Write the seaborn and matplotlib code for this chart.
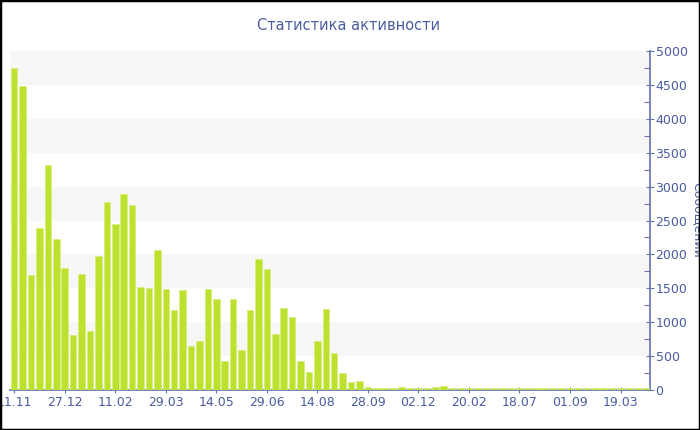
import matplotlib
matplotlib.use("Agg")
import matplotlib.pyplot as plt
import seaborn as sns
import pandas as pd
import numpy as np
from matplotlib.ticker import MultipleLocator

values = [4750, 4480, 1700, 2390, 3320, 2220, 1795, 810, 1715, 865,
          1980, 2775, 2450, 2895, 2730, 1525, 1500, 2065, 1495, 1180,
          1470, 655, 725, 1485, 1345, 430, 1345, 590, 1185, 1930,
          1780, 830, 1205, 1075, 432, 265, 720, 1190, 545, 250,
          125, 130, 45, 35, 35, 25, 38, 28, 25, 35,
          48, 58, 28, 26, 26, 26, 25, 25, 25, 25,
          24, 24, 24, 24, 24, 24, 24, 24, 24, 24,
          24, 24, 24, 24, 24, 24]
tick_labels = ["11.11", "27.12", "11.02", "29.03", "14.05", "29.06", "14.08",
               "28.09", "02.12", "20.02", "18.07", "01.09", "19.03"]
title = "Статистика активности"
ylabel = "Сообщений"

sns.set_theme(style="white")
plt.rcParams['font.family'] = ['DejaVu Sans']

text_color = "#4a5c9e"
axis_color = "#6274b0"
bar_color = "#bde12f"

df = pd.DataFrame({"idx": [str(i) for i in range(len(values))], "val": values})

fig = plt.figure(figsize=(7, 4.3), dpi=100)
ax = fig.add_axes([10/700, 40/430, 640/700, 339/430])

# alternating background bands
for lo in range(500, 5000, 1000):
    ax.axhspan(lo, lo + 500, color="#f7f7f7", zorder=0, lw=0)

sns.barplot(data=df, x="idx", y="val", color=bar_color, width=0.78,
            edgecolor="#d6ee80", linewidth=0.6, saturation=1, ax=ax, zorder=3)

ax.set_ylim(0, 5000)
ax.set_xlim(-0.5, len(values) - 0.5)
ax.set_xlabel("")
ax.set_ylabel("")

ax.yaxis.tick_right()
ax.yaxis.set_major_locator(MultipleLocator(500))
ax.yaxis.set_minor_locator(MultipleLocator(250))
ax.tick_params(axis="y", which="major", direction="inout", length=6, width=0.8,
               color=axis_color, labelcolor=text_color, labelsize=9, pad=1,
               right=True, left=False)
ax.tick_params(axis="y", which="minor", direction="in", length=4, width=0.8,
               color=axis_color, right=True, left=False)

pos = list(range(0, len(values), 6))[:len(tick_labels)]
ax.set_xticks(pos)
ax.set_xticklabels(tick_labels)
ax.tick_params(axis="x", which="major", direction="inout", length=5, width=0.8,
               color=axis_color, labelcolor=text_color, labelsize=9, pad=2,
               bottom=True)

for s in ["top", "left"]:
    ax.spines[s].set_visible(False)
for s in ["right", "bottom"]:
    ax.spines[s].set_color(axis_color)
    ax.spines[s].set_linewidth(1.2)
ax.spines["bottom"].set_zorder(2)
ax.set_facecolor("white")

fig.text(349/700, 1 - 25/430, title, ha="center", va="center",
         fontsize=10.5, color=text_color)
fig.text(697/700, 1 - 220/430, ylabel, ha="center", va="center",
         rotation=-90, fontsize=9, color=text_color)

# black frame around the figure
fig.patches.append(plt.Rectangle((0, 0), 1, 1, transform=fig.transFigure,
                                 fill=False, edgecolor="black", linewidth=2.5,
                                 zorder=10))

fig.savefig("out.png", dpi=100)
